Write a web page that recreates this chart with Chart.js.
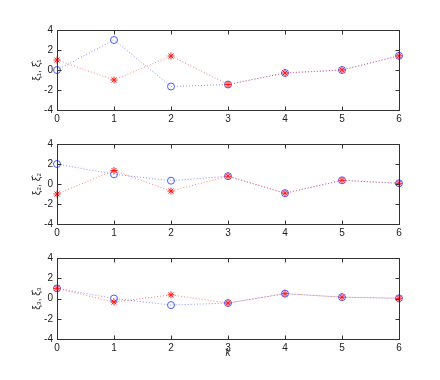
<!DOCTYPE html>
<html>
<head>
<meta charset="utf-8">
<script src="https://cdn.jsdelivr.net/npm/chart.js@4/dist/chart.umd.min.js"></script>
<style>
html,body{margin:0;padding:0;background:#fff;width:440px;height:380px;overflow:hidden}
.wrap{position:absolute;left:0;width:440px}
</style>
</head>
<body>
<div class="wrap" style="top:20px;height:110px"><canvas id="c1"></canvas></div>
<div class="wrap" style="top:134px;height:110px"><canvas id="c2"></canvas></div>
<div class="wrap" style="top:248px;height:121px"><canvas id="c3"></canvas></div>
<script>
// Data
const k = [0, 1, 2, 3, 4, 5, 6];
const xi1     = [0.0, 3.0, -1.65, -1.45, -0.3, 0.0, 1.42];
const xi1hat  = [1.0, -1.0, 1.4, -1.45, -0.3, 0.0, 1.42];
const xi2     = [2.0, 0.97, 0.33, 0.78, -0.92, 0.37, 0.07];
const xi2hat  = [-1.0, 1.35, -0.7, 0.78, -0.92, 0.37, 0.07];
const xi3     = [1.0, 0.0, -0.65, -0.45, 0.48, 0.13, 0.02];
const xi3hat  = [1.0, -0.35, 0.36, -0.45, 0.48, 0.13, 0.02];
const yLabels = ['\u03BE\u2081, \u03BE\u0302\u2081', '\u03BE\u2082, \u03BE\u0302\u2082', '\u03BE\u2083, \u03BE\u0302\u2083'];
const xTitle = 'k';

const FONT = 'Liberation Sans, Arial, sans-serif';
const AXIS_COLOR = '#333';

const boxPlugin = {
  id: 'box',
  afterDraw(chart) {
    const {ctx, chartArea: a, scales: {x, y}} = chart;
    ctx.save();
    ctx.strokeStyle = AXIS_COLOR;
    ctx.lineWidth = 1;
    const L = Math.round(a.left) + 0.5, R = Math.round(a.right) + 0.5;
    const T = Math.round(a.top) + 0.5, B = Math.round(a.bottom) + 0.5;
    ctx.strokeRect(L, T, R - L, B - T);
    const tl = 4;
    ctx.beginPath();
    x.ticks.forEach(t => {
      const px = Math.round(x.getPixelForValue(t.value)) + 0.5;
      ctx.moveTo(px, B); ctx.lineTo(px, B - tl);
      ctx.moveTo(px, T); ctx.lineTo(px, T + tl);
    });
    y.ticks.forEach(t => {
      const py = Math.round(y.getPixelForValue(t.value)) + 0.5;
      ctx.moveTo(L, py); ctx.lineTo(L + tl, py);
      ctx.moveTo(R, py); ctx.lineTo(R - tl, py);
    });
    ctx.stroke();
    ctx.restore();
  }
};

function pts(arr) { return k.map((v, i) => ({x: v, y: arr[i]})); }

function makeChart(id, est, act, ylab, withX) {
  new Chart(document.getElementById(id), {
    type: 'line',
    data: {
      datasets: [
        {
          data: pts(est),
          borderColor: 'rgba(255,90,90,0.75)',
          borderWidth: 1,
          borderDash: [1, 2],
          pointStyle: 'star',
          pointRadius: 3.5,
          pointBorderColor: '#ff1a1a',
          pointBorderWidth: 1,
          pointBackgroundColor: '#ff1a1a',
          tension: 0,
          fill: false,
          clip: false
        },
        {
          data: pts(act),
          borderColor: 'rgba(110,120,255,0.8)',
          borderWidth: 1,
          borderDash: [1, 2],
          pointStyle: 'circle',
          pointRadius: 3.5,
          pointBorderColor: '#4a5cff',
          pointBorderWidth: 1,
          pointBackgroundColor: 'rgba(0,0,0,0)',
          tension: 0,
          fill: false,
          clip: false
        }
      ]
    },
    options: {
      responsive: true,
      maintainAspectRatio: false,
      animation: false,
      events: [],
      layout: {padding: {top: 9, right: 41, left: 0, bottom: 0}},
      plugins: {legend: {display: false}, tooltip: {enabled: false}},
      scales: {
        x: {
          type: 'linear', min: 0, max: 6,
          grid: {display: false, drawTicks: false},
          border: {display: false},
          ticks: {stepSize: 1, padding: 3, color: '#222', font: {family: FONT, size: 10}},
          title: withX ? {display: true, text: xTitle, color: '#222',
                          font: {family: FONT, size: 10, style: 'italic'}, padding: {top: 0, bottom: 10}} : {display: false},
          afterFit: s => { s.height = withX ? 30 : 20; }
        },
        y: {
          type: 'linear', min: -4, max: 4,
          grid: {display: false, drawTicks: false},
          border: {display: false},
          ticks: {stepSize: 2, padding: 4, color: '#222', font: {family: FONT, size: 10}},
          title: {display: true, text: ylab, color: '#222',
                  font: {family: FONT, size: 10}, padding: {top: 31, bottom: 0}},
          afterFit: s => { s.width = 57; }
        }
      }
    },
    plugins: [boxPlugin]
  });
}

makeChart('c1', xi1hat, xi1, yLabels[0], false);
makeChart('c2', xi2hat, xi2, yLabels[1], false);
makeChart('c3', xi3hat, xi3, yLabels[2], true);
</script>
</body>
</html>
